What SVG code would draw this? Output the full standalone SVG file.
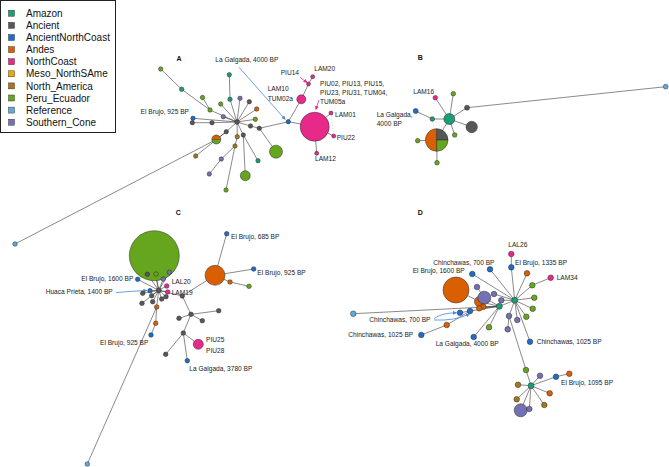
<svg xmlns="http://www.w3.org/2000/svg" width="669" height="467" viewBox="0 0 669 467">
<style>
.e{stroke:#3a3a3a;stroke-width:0.6;fill:none}
.f{stroke:#c8c8c8;stroke-width:0.6;fill:none;stroke-dasharray:1.5 1.5}
circle,.pie{stroke:#2a2a2a;stroke-width:0.5}
.am{fill:#1b9e77}.an{fill:#575757}.anc{fill:#1f6dc6}.ad{fill:#d95f02}.nc{fill:#e7298a}
.me{fill:#e6ab02}.na{fill:#a6761d}.pe{fill:#66a61e}.rf{fill:#62a9d8}.sc{fill:#7570b3}
.lg{font-family:"Liberation Sans",Arial,sans-serif;font-size:10px;fill:#111}
.t{font-family:"Liberation Sans",Arial,sans-serif;font-size:6.6px;fill:#222}
.p{font-family:"Liberation Sans",Arial,sans-serif;font-size:7px;font-weight:bold;fill:#111;text-anchor:middle}
.ab{stroke:#4a86d8;stroke-width:0.8;fill:none}
.ap{stroke:#e7298a;stroke-width:0.8;fill:none}
</style>
<defs>
<marker id="mb" viewBox="0 0 10 10" refX="9" refY="5" markerWidth="5" markerHeight="5" orient="auto"><path d="M0,0L10,5L0,10z" fill="#4a86d8"/></marker>
<marker id="mp" viewBox="0 0 10 10" refX="9" refY="5" markerWidth="5" markerHeight="5" orient="auto"><path d="M0,0L10,5L0,10z" fill="#e7298a"/></marker>
</defs>
<rect width="669" height="467" fill="#fff"/>
<g id="legend">
<rect x="0.5" y="0.5" width="115" height="132" fill="#fff" stroke="#222" stroke-width="1"/>
<rect x="8.5" y="10.3" width="6" height="6" class="am" stroke="#222" stroke-width="0.4"/><text x="26" y="16.9" class="lg">Amazon</text>
<rect x="8.5" y="22.4" width="6" height="6" class="an" stroke="#222" stroke-width="0.4"/><text x="26" y="29" class="lg">Ancient</text>
<rect x="8.5" y="34.5" width="6" height="6" class="anc" stroke="#222" stroke-width="0.4"/><text x="26" y="41.1" class="lg">AncientNorthCoast</text>
<rect x="8.5" y="46.6" width="6" height="6" class="ad" stroke="#222" stroke-width="0.4"/><text x="26" y="53.2" class="lg">Andes</text>
<rect x="8.5" y="58.7" width="6" height="6" class="nc" stroke="#222" stroke-width="0.4"/><text x="26" y="65.3" class="lg">NorthCoast</text>
<rect x="8.5" y="70.8" width="6" height="6" class="me" stroke="#222" stroke-width="0.4"/><text x="26" y="77.4" class="lg">Meso_NorthSAme</text>
<rect x="8.5" y="82.9" width="6" height="6" class="na" stroke="#222" stroke-width="0.4"/><text x="26" y="89.5" class="lg">North_America</text>
<rect x="8.5" y="95" width="6" height="6" class="pe" stroke="#222" stroke-width="0.4"/><text x="26" y="101.6" class="lg">Peru_Ecuador</text>
<rect x="8.5" y="107.1" width="6" height="6" class="rf" stroke="#222" stroke-width="0.4"/><text x="26" y="113.7" class="lg">Reference</text>
<rect x="8.5" y="119.2" width="6" height="6" class="sc" stroke="#222" stroke-width="0.4"/><text x="26" y="125.8" class="lg">Southern_Cone</text>
</g>
<g id="panel-labels">
<text x="179" y="60.6" class="p">A</text>
<text x="420.3" y="59.8" class="p">B</text>
<text x="178.3" y="214.8" class="p">C</text>
<text x="420.3" y="214.8" class="p">D</text>
</g>
<g id="connectors">
<!-- A -->
<path class="e" d="M160.7,69L181.7,89.3L210,110M202.5,97.5L210,110L237,122M229.3,74.7L230,99.3L237,122M220.7,104L237,122M223.3,116.7L237,122M240,98.3L237,122M249.3,101.7L237,122M256.7,109L237,122M255.3,119.3L237,122M193,118.3L237,122M192.3,122.7L212,122.7L237,122M226.3,131.7L237,122M216.3,139.5L226.3,131.7M216.3,139.5L15,244M195.7,156L226.3,131.7M243.3,135L237,122M243.3,135L258,160.7M243.3,135L245.3,175.7M237,122L250.5,126L259.3,128.3L288.3,121.7M259.3,128.3L276,151.7M237,122L237.3,136.7L235,146L226,190M235,146L221.3,159L209.3,174M288.3,121.7L301.3,99.3L308.5,84L312.7,76.7M288.3,121.7L314.7,126.7M314.7,126.7L331,113M314.7,126.7L333.7,136M314.7,126.7L316.7,153.3"/>
<path class="f" d="M331,113L333.7,136"/>
<!-- B -->
<path class="e" d="M449.3,119L435.3,97.7M449.3,119L453.3,93.7M449.3,119L467,107.7L665.7,86.7M449.3,119L471.7,127M449.3,119L454.7,135M449.3,119L432.3,119L415.7,111M449.3,119L436.7,140M436.7,140L417.7,140.7M436.7,140L437,162.7"/>
<path class="f" d="M432.3,119L436.7,140M432.3,119L445,131"/>
<!-- C -->
<path class="e" d="M158.7,290.3L154.3,270M158.7,290.3L147.3,274.3M158.7,290.3L156,274M158.7,290.3L169.3,272.3M158.7,290.3L163.3,279M158.7,290.3L137.7,279.3M158.7,290.3L150,290.7M158.7,290.3L166.7,286M158.7,290.3L167.7,292M158.7,290.3L142.7,293.3M158.7,290.3L151.7,295.7M158.7,290.3L142,303.3M158.7,290.3L152.7,301.7M158.7,290.3L161.7,299M158.7,290.3L166,296.7M158.7,290.3L156.7,307L155.7,323.3L151,335M156.7,307L87.3,464M158.7,290.3L182.3,296L215,275.3M215,275.3L226.7,233.7M215,275.3L253.7,269M215,275.3L230,282L249,286.3M182.3,296L191,314.3L179,318.3M191,314.3L202.3,320.7M191,314.3L218.7,310.7M191,314.3L183.3,333L165.7,354.3M183.3,333L187.3,360.7M183.3,333L198.3,344.3"/>
<!-- D -->
<path class="e" d="M514.7,300.3L511.3,267.3L511.3,254M514.7,300.3L527,273.3M514.7,300.3L532.3,285.3L550.7,277.7M514.7,300.3L534.3,297.7M514.7,300.3L532.7,308.7M514.7,300.3L526.3,316.7M514.7,300.3L517.3,320M514.7,300.3L509,316L507.7,329.3M514.7,300.3L530,341.7M509,316L526,370L531,385.7M531,385.7L540,375.7M531,385.7L556,376.7L569.3,373.7M531,385.7L549.7,393.3M531,385.7L544.3,405M531,385.7L518,384.7M531,385.7L516.7,399.3M531,385.7L520.7,410.3M531,385.7L529.3,409M514.7,300.3L490,269.3M514.7,300.3L472.3,274M514.7,300.3L494,294M514.7,300.3L501.3,300.3M514.7,300.3L499.3,306.3M499.3,306.3L484.3,297.7L477,287M499.3,306.3L480,301.7L456,290M499.3,306.3L483.3,306.7M499.3,306.3L479.3,308.3M499.3,306.3L353.3,313.7M499.3,306.3L470,311L460,312.7M470,311L446.7,325L421.3,335M499.3,306.3L489,327.3M499.3,306.3L473.7,337"/>
<!-- arrows -->
<path class="ab" d="M239,67.3L285.3,119.5" marker-end="url(#mb)"/>
<path class="ap" d="M300,77.3L307,82.6" marker-end="url(#mp)"/>
<path class="ap" d="M319,100L315.8,109.6" marker-end="url(#mp)"/>
<path class="ab" d="M116,292.6Q132,291 147,290.6" marker-end="url(#mb)"/>
<path class="ab" d="M434,318.6Q441,313 456.5,312.8" marker-end="url(#mb)"/>
<path class="ab" d="M434,320Q455,321 469.5,314" marker-end="url(#mb)"/>
</g>
<!-- Panel A nodes -->
<g id="A-hub"><circle cx="237" cy="122" r="2.4" class="an"/></g>
<g id="A-g1"><circle cx="160.7" cy="69" r="2.2" class="pe"/></g>
<g id="A-t1"><circle cx="181.7" cy="89.3" r="2.2" class="am"/></g>
<g id="A-g2"><circle cx="202.5" cy="97.5" r="2.2" class="pe"/></g>
<g id="A-g3"><circle cx="210" cy="110" r="2.2" class="pe"/></g>
<g id="A-t2"><circle cx="229.3" cy="74.7" r="2.2" class="am"/></g>
<g id="A-t3"><circle cx="230" cy="99.3" r="2.2" class="am"/></g>
<g id="A-g4"><circle cx="220.7" cy="104" r="2.2" class="pe"/></g>
<g id="A-p1"><circle cx="223.3" cy="116.7" r="2.2" class="sc"/></g>
<g id="A-p2"><circle cx="240" cy="98.3" r="2.2" class="sc"/></g>
<g id="A-d1"><circle cx="249.3" cy="101.7" r="2.2" class="an"/></g>
<g id="A-o1"><circle cx="256.7" cy="109" r="2.2" class="ad"/></g>
<g id="A-g5"><circle cx="255.3" cy="119.3" r="2.2" class="pe"/></g>
<g id="A-bl1"><circle cx="193" cy="118.3" r="2.2" class="anc"/></g>
<g id="A-d2"><circle cx="192.3" cy="122.7" r="2.2" class="an"/></g>
<g id="A-d3"><circle cx="212" cy="122.7" r="2.2" class="an"/><text x="189" y="113.9" class="t" text-anchor="end">El Brujo, 925 BP</text></g>
<g id="A-half"><path class="ad" d="M211.8,139.5A4.5,4.5 0 0 1 220.8,139.5Z"/><path class="pe" d="M211.8,139.5A4.5,4.5 0 0 0 220.8,139.5Z"/><circle cx="216.3" cy="139.5" r="4.5" fill="none"/><path d="M211.8,139.5H220.8" stroke="#2a2a2a" stroke-width="0.5"/></g>
<g id="A-d4"><circle cx="226.3" cy="131.7" r="2.2" class="an"/></g>
<g id="A-d5"><circle cx="243.3" cy="135" r="2.2" class="an"/></g>
<g id="A-d6"><circle cx="250.5" cy="126" r="2.2" class="an"/></g>
<g id="A-d7"><circle cx="259.3" cy="128.3" r="2.2" class="an"/></g>
<g id="A-galgada"><circle cx="288.3" cy="121.7" r="2.2" class="anc"/><text x="215.3" y="62.2" class="t">La Galgada, 4000 BP</text></g>
<g id="A-lam10"><circle cx="301.3" cy="99.3" r="4.5" class="nc"/><text x="267.7" y="91.2" class="t">LAM10</text><text x="267.7" y="100.6" class="t">TUM02a</text></g>
<g id="A-piu14"><circle cx="308.5" cy="84" r="2" class="nc"/><text x="280.7" y="74.9" class="t">PIU14</text></g>
<g id="A-lam20"><circle cx="312.7" cy="76.7" r="2" class="nc"/><text x="314.3" y="71.3" class="t">LAM20</text></g>
<g id="A-bigpink"><circle cx="314.7" cy="126.7" r="14.5" class="nc"/><text x="320" y="85.5" class="t">PIU02, PIU13, PIU15,</text><text x="320" y="94.6" class="t">PIU23, PIU31, TUM04,</text><text x="320" y="103.8" class="t">TUM05a</text></g>
<g id="A-lam01"><circle cx="331" cy="113" r="2" class="nc"/><text x="335" y="116.6" class="t">LAM01</text></g>
<g id="A-piu22"><circle cx="333.7" cy="136" r="2" class="nc"/><text x="336.7" y="139.6" class="t">PIU22</text></g>
<g id="A-lam12"><circle cx="316.7" cy="153.3" r="2" class="nc"/><text x="315" y="161.3" class="t">LAM12</text></g>
<g id="A-gbig"><circle cx="276" cy="151.7" r="6.5" class="pe"/></g>
<g id="A-t4"><circle cx="258" cy="160.7" r="2.2" class="am"/></g>
<g id="A-br1"><circle cx="237.3" cy="136.7" r="2.2" class="na"/></g>
<g id="A-br2"><circle cx="235" cy="146" r="2.2" class="na"/></g>
<g id="A-g6"><circle cx="226" cy="190" r="2.2" class="pe"/></g>
<g id="A-pu3"><circle cx="221.3" cy="159" r="2.2" class="sc"/></g>
<g id="A-pu4"><circle cx="209.3" cy="174" r="2.2" class="sc"/></g>
<g id="A-br3"><circle cx="195.7" cy="156" r="2.2" class="na"/></g>
<g id="A-g7"><circle cx="245.3" cy="175.7" r="5" class="pe"/></g>
<g id="A-ref"><circle cx="15" cy="244" r="2.3" class="rf"/></g>
<!-- Panel B nodes -->
<g id="B-hub"><circle cx="449.3" cy="119" r="5.5" class="am"/></g>
<g id="B-lam16"><circle cx="435.3" cy="97.7" r="2.3" class="nc"/><text x="413.3" y="93.6" class="t">LAM16</text></g>
<g id="B-g1"><circle cx="453.3" cy="93.7" r="2.3" class="pe"/></g>
<g id="B-d1"><circle cx="467" cy="107.7" r="2.5" class="an"/></g>
<g id="B-ref"><circle cx="665.7" cy="86.7" r="2.4" class="rf"/></g>
<g id="B-d2"><circle cx="471.7" cy="127" r="5.7" class="an"/></g>
<g id="B-g2"><circle cx="454.7" cy="135" r="2.3" class="pe"/></g>
<g id="B-t"><circle cx="432.3" cy="119" r="2.3" class="am"/></g>
<g id="B-galgada"><circle cx="415.7" cy="111" r="2.5" class="anc"/><text x="376.7" y="116.6" class="t">La Galgada,</text><text x="376.7" y="126.3" class="t">4000 BP</text></g>
<g id="B-pie"><path class="ad pie" d="M436.7,128.7A11.3,11.3 0 0 0 436.7,151.3Z"/><path class="an pie" d="M436.7,140L436.7,128.7A11.3,11.3 0 0 1 448,140Z"/><path class="pe pie" d="M436.7,140L448,140A11.3,11.3 0 0 1 436.7,151.3Z"/></g>
<g id="B-g3"><circle cx="417.7" cy="140.7" r="2.3" class="pe"/></g>
<g id="B-g4"><circle cx="437" cy="162.7" r="2.3" class="pe"/></g>
<!-- Panel C nodes -->
<g id="C-gbig"><circle cx="154.3" cy="255.7" r="25" class="pe"/></g>
<g id="C-d1"><circle cx="147.3" cy="274.3" r="2.3" class="an"/></g>
<g id="C-g2"><circle cx="156" cy="274" r="2.3" class="pe"/></g>
<g id="C-pu1"><circle cx="169.3" cy="272.3" r="2.3" class="sc"/></g>
<g id="C-pu2"><circle cx="163.3" cy="279" r="2.3" class="sc"/></g>
<g id="C-brujo1600"><circle cx="137.7" cy="279.3" r="2.3" class="anc"/><text x="133.3" y="280.6" class="t" text-anchor="end">El Brujo, 1600 BP</text></g>
<g id="C-hub"><circle cx="158.7" cy="290.3" r="2.5" class="an"/></g>
<g id="C-huaca"><circle cx="150" cy="290.7" r="2.3" class="anc"/><text x="45.7" y="294" class="t">Huaca Prieta, 1400 BP</text></g>
<g id="C-lal20"><circle cx="166.7" cy="286" r="2.3" class="nc"/><text x="171.7" y="283.6" class="t">LAL20</text></g>
<g id="C-lam19"><circle cx="167.7" cy="292" r="2.3" class="nc"/><text x="171.7" y="294.6" class="t">LAM19</text></g>
<g id="C-d2"><circle cx="142.7" cy="293.3" r="2.3" class="an"/></g>
<g id="C-d3"><circle cx="151.7" cy="295.7" r="2.3" class="an"/></g>
<g id="C-d4"><circle cx="142" cy="303.3" r="2.3" class="an"/></g>
<g id="C-d5"><circle cx="152.7" cy="301.7" r="2.3" class="an"/></g>
<g id="C-d6"><circle cx="161.7" cy="299" r="2.3" class="an"/></g>
<g id="C-d7"><circle cx="166" cy="296.7" r="2.3" class="an"/></g>
<g id="C-o1"><circle cx="156.7" cy="307" r="2.3" class="ad"/></g>
<g id="C-o2"><circle cx="155.7" cy="323.3" r="2.3" class="ad"/></g>
<g id="C-brujo925a"><circle cx="151" cy="335" r="2.3" class="anc"/><text x="100" y="345.3" class="t">El Brujo, 925 BP</text></g>
<g id="C-ref"><circle cx="87.3" cy="464" r="2.3" class="rf"/></g>
<g id="C-d8"><circle cx="182.3" cy="296" r="2.3" class="an"/></g>
<g id="C-d9"><circle cx="191" cy="314.3" r="2.3" class="an"/></g>
<g id="C-d10"><circle cx="179" cy="318.3" r="2.3" class="an"/></g>
<g id="C-d11"><circle cx="202.3" cy="320.7" r="2.3" class="an"/></g>
<g id="C-d12"><circle cx="218.7" cy="310.7" r="2.3" class="an"/></g>
<g id="C-d13"><circle cx="183.3" cy="333" r="2.3" class="an"/></g>
<g id="C-d14"><circle cx="165.7" cy="354.3" r="2.3" class="an"/></g>
<g id="C-galgada"><circle cx="187.3" cy="360.7" r="2.3" class="anc"/><text x="189.3" y="370.6" class="t">La Galgada, 3780 BP</text></g>
<g id="C-piu25"><circle cx="198.3" cy="344.3" r="5" class="nc"/><text x="206" y="342.3" class="t">PIU25</text><text x="206" y="353" class="t">PIU28</text></g>
<g id="C-obig"><circle cx="215" cy="275.3" r="10" class="ad"/></g>
<g id="C-brujo685"><circle cx="226.7" cy="233.7" r="2.3" class="anc"/><text x="231" y="239" class="t">El Brujo, 685 BP</text></g>
<g id="C-brujo925b"><circle cx="253.7" cy="269" r="2.3" class="anc"/><text x="257.3" y="275" class="t">El Brujo, 925 BP</text></g>
<g id="C-o3"><circle cx="230" cy="282" r="2.3" class="ad"/></g>
<g id="C-g3"><circle cx="249" cy="286.3" r="2.3" class="pe"/></g>
<!-- Panel D nodes -->
<g id="D-hub"><circle cx="514.7" cy="300.3" r="3" class="am"/></g>
<g id="D-lal26"><circle cx="511.3" cy="254" r="2.8" class="nc"/><text x="508.3" y="246.6" class="t">LAL26</text></g>
<g id="D-brujo1335"><circle cx="511.3" cy="267.3" r="2.8" class="anc"/><text x="515" y="265" class="t">El Brujo, 1335 BP</text></g>
<g id="D-o1"><circle cx="527" cy="273.3" r="2.8" class="ad"/></g>
<g id="D-g1"><circle cx="532.3" cy="285.3" r="2.8" class="pe"/></g>
<g id="D-lam34"><circle cx="550.7" cy="277.7" r="2.8" class="nc"/><text x="556.7" y="280.3" class="t">LAM34</text></g>
<g id="D-g2"><circle cx="534.3" cy="297.7" r="2.8" class="pe"/></g>
<g id="D-g3"><circle cx="532.7" cy="308.7" r="2.8" class="pe"/></g>
<g id="D-g4"><circle cx="526.3" cy="316.7" r="2.8" class="pe"/></g>
<g id="D-pu1"><circle cx="517.3" cy="320" r="2.8" class="sc"/></g>
<g id="D-pu2"><circle cx="509" cy="316" r="2.8" class="sc"/></g>
<g id="D-pu3"><circle cx="507.7" cy="329.3" r="2.8" class="sc"/></g>
<g id="D-chin1025b"><circle cx="530" cy="341.7" r="2.8" class="anc"/><text x="536.7" y="343.6" class="t">Chinchawas, 1025 BP</text></g>
<g id="D-g5"><circle cx="526" cy="370" r="2.8" class="pe"/></g>
<g id="D-hub2"><circle cx="531" cy="385.7" r="3" class="am"/></g>
<g id="D-pu4"><circle cx="540" cy="375.7" r="2.8" class="sc"/></g>
<g id="D-brujo1095"><circle cx="556" cy="376.7" r="2.8" class="anc"/><text x="561" y="385" class="t">El Brujo, 1095 BP</text></g>
<g id="D-o2"><circle cx="569.3" cy="373.7" r="2.8" class="ad"/></g>
<g id="D-o3"><circle cx="549.7" cy="393.3" r="2.8" class="ad"/></g>
<g id="D-br1"><circle cx="544.3" cy="405" r="2.8" class="na"/></g>
<g id="D-br2"><circle cx="518" cy="384.7" r="2.8" class="na"/></g>
<g id="D-br3"><circle cx="516.7" cy="399.3" r="2.8" class="na"/></g>
<g id="D-pubig"><circle cx="520.7" cy="410.3" r="6.5" class="sc"/></g>
<g id="D-pu5"><circle cx="529.3" cy="409" r="2.8" class="sc"/></g>
<g id="D-chin700a"><circle cx="490" cy="269.3" r="2.8" class="anc"/><text x="433.3" y="264.6" class="t">Chinchawas, 700 BP</text></g>
<g id="D-brujo1600"><circle cx="472.3" cy="274" r="2.8" class="anc"/><text x="412.7" y="273" class="t">El Brujo, 1600 BP</text></g>
<g id="D-obig"><circle cx="456" cy="290" r="13" class="ad"/></g>
<g id="D-pu6"><circle cx="477" cy="287" r="2.8" class="sc"/></g>
<g id="D-pu7"><circle cx="494" cy="294" r="2.8" class="sc"/></g>
<g id="D-omed"><circle cx="480" cy="301.7" r="5.5" class="ad"/></g>
<g id="D-pubig2"><circle cx="484.3" cy="297.7" r="6.5" class="sc"/></g>
<g id="D-pu8"><circle cx="501.3" cy="300.3" r="2.8" class="sc"/></g>
<g id="D-o4"><circle cx="483.3" cy="306.7" r="2.8" class="ad"/></g>
<g id="D-o5"><circle cx="479.3" cy="308.3" r="2.8" class="ad"/></g>
<g id="D-t"><circle cx="499.3" cy="306.3" r="3" class="am"/></g>
<g id="D-ref"><circle cx="353.3" cy="313.7" r="2.8" class="rf"/></g>
<g id="D-chin700b"><circle cx="460" cy="312.7" r="2.8" class="anc"/><text x="369.3" y="321.6" class="t">Chinchawas, 700 BP</text></g>
<g id="D-chin700c"><circle cx="470" cy="311" r="2.8" class="anc"/></g>
<g id="D-o6"><circle cx="446.7" cy="325" r="2.8" class="ad"/></g>
<g id="D-chin1025a"><circle cx="421.3" cy="335" r="2.8" class="anc"/><text x="348.3" y="337.3" class="t">Chinchawas, 1025 BP</text></g>
<g id="D-galgada"><circle cx="473.7" cy="337" r="2.8" class="anc"/><text x="435.7" y="346.3" class="t">La Galgada, 4000 BP</text></g>
<g id="D-g6"><circle cx="489" cy="327.3" r="2.8" class="pe"/></g>
</svg>
